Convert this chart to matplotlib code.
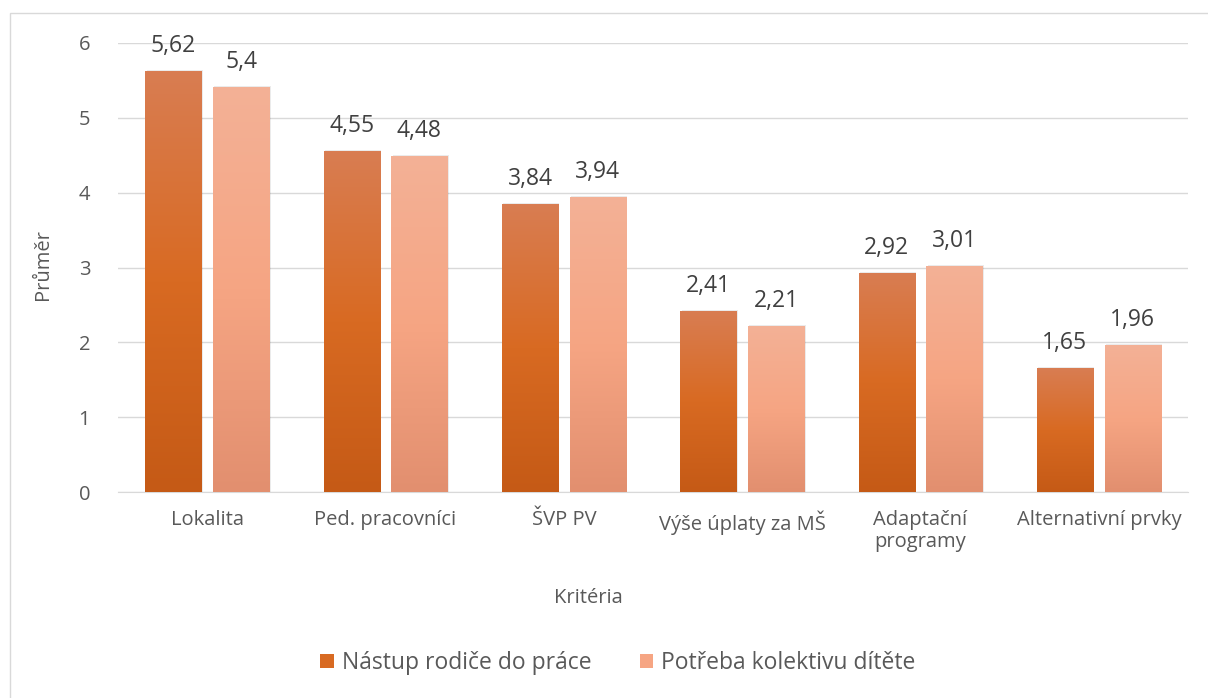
import numpy as np
import matplotlib
matplotlib.use('Agg')
import matplotlib.pyplot as plt
from matplotlib.colors import LinearSegmentedColormap
from matplotlib.patches import Rectangle, Patch

plt.rcParams['font.family'] = ['Open Sans', 'DejaVu Sans']

categories = ['Lokalita', 'Ped. pracovníci', 'ŠVP PV', 'Výše úplaty za MŠ',
              'Adaptační\nprogramy', 'Alternativní prvky']
series_names = ['Nástup rodiče do práce', 'Potřeba kolektivu dítěte']
nastup = [5.62, 4.55, 3.84, 2.41, 2.92, 1.65]
potreba = [5.40, 4.48, 3.94, 2.21, 3.01, 1.96]
labels_nastup = ['5,62', '4,55', '3,84', '2,41', '2,92', '1,65']
labels_potreba = ['5,4', '4,48', '3,94', '2,21', '3,01', '1,96']

# barvy prechodu (nahore, uprostred, dole)
grad_dark = ['#D97D52', '#D86A22', '#C55A16']
grad_light = ['#F3B196', '#F6A583', '#E28F6F']
text_col = '#595959'

fig = plt.figure(figsize=(12.08, 6.98), dpi=100)
ax = fig.add_axes([118 / 1208, 1 - 492 / 698, 1070 / 1208, 449 / 698])

# ramecek grafu
fig.patches.append(Rectangle((10 / 1208, -0.05), 1.2, 1 - 13 / 698 + 0.05,
                             transform=fig.transFigure, fill=False,
                             edgecolor='#D9D9D9', linewidth=1.0))

x = np.arange(len(categories))
w = 0.315
off = 0.19


def gradient_bars(xpos, values, colors, labels):
    cmap = LinearSegmentedColormap.from_list('g', colors[::-1])
    bars = ax.bar(xpos, values, w, color='none', zorder=3)
    grad = np.linspace(0, 1, 256).reshape(-1, 1)
    for b, lab in zip(bars, labels):
        x0 = b.get_x()
        x1 = x0 + b.get_width()
        h = b.get_height()
        # jemny stin
        ax.add_patch(Rectangle((x0 + 0.008, 0), b.get_width(), h + 0.02,
                               facecolor='#000000', alpha=0.08,
                               edgecolor='none', zorder=2))
        ax.imshow(grad, extent=[x0, x1, 0, h], origin='lower', cmap=cmap,
                  aspect='auto', zorder=3)
        ax.text(b.get_x() + b.get_width() / 2, h + 0.18, lab, ha='center',
                va='bottom', fontsize=16.5, color='#404040', zorder=4)
    return bars


gradient_bars(x - off, nastup, grad_dark, labels_nastup)
gradient_bars(x + off, potreba, grad_light, labels_potreba)
ax.set_xlim(-0.5, len(categories) - 0.5)
ax.set_ylim(0, 6)

ax.set_yticks(range(0, 7))
ax.yaxis.grid(True, color='#D9D9D9', linewidth=1.0, zorder=0)
ax.set_axisbelow(True)
for s in ['top', 'right', 'left']:
    ax.spines[s].set_visible(False)
ax.spines['bottom'].set_color('#D9D9D9')
ax.tick_params(axis='both', length=0, labelsize=14.5, colors=text_col)
ax.tick_params(axis='y', pad=20)
ax.tick_params(axis='x', pad=13)
ax.set_xticks(x)
ax.set_xticklabels(categories, linespacing=1.1)

fig.text(43 / 1208, 1 - 265 / 698, 'Průměr', rotation=90, ha='center',
         va='center', fontsize=14.5, color=text_col)
fig.text(588 / 1208, 1 - 598 / 698, 'Kritéria', ha='center', va='center',
         fontsize=14.5, color=text_col)

handles = [Patch(facecolor=grad_dark[1], edgecolor='none'),
           Patch(facecolor=grad_light[1], edgecolor='none')]
fig.legend(handles, series_names, loc='center', ncol=2,
           bbox_to_anchor=(618 / 1208, 1 - 663 / 698), frameon=False,
           fontsize=16.5, labelcolor=text_col, handlelength=0.6,
           handleheight=0.6, handletextpad=0.35, columnspacing=2.1)

fig.savefig('out.png', dpi=100)
